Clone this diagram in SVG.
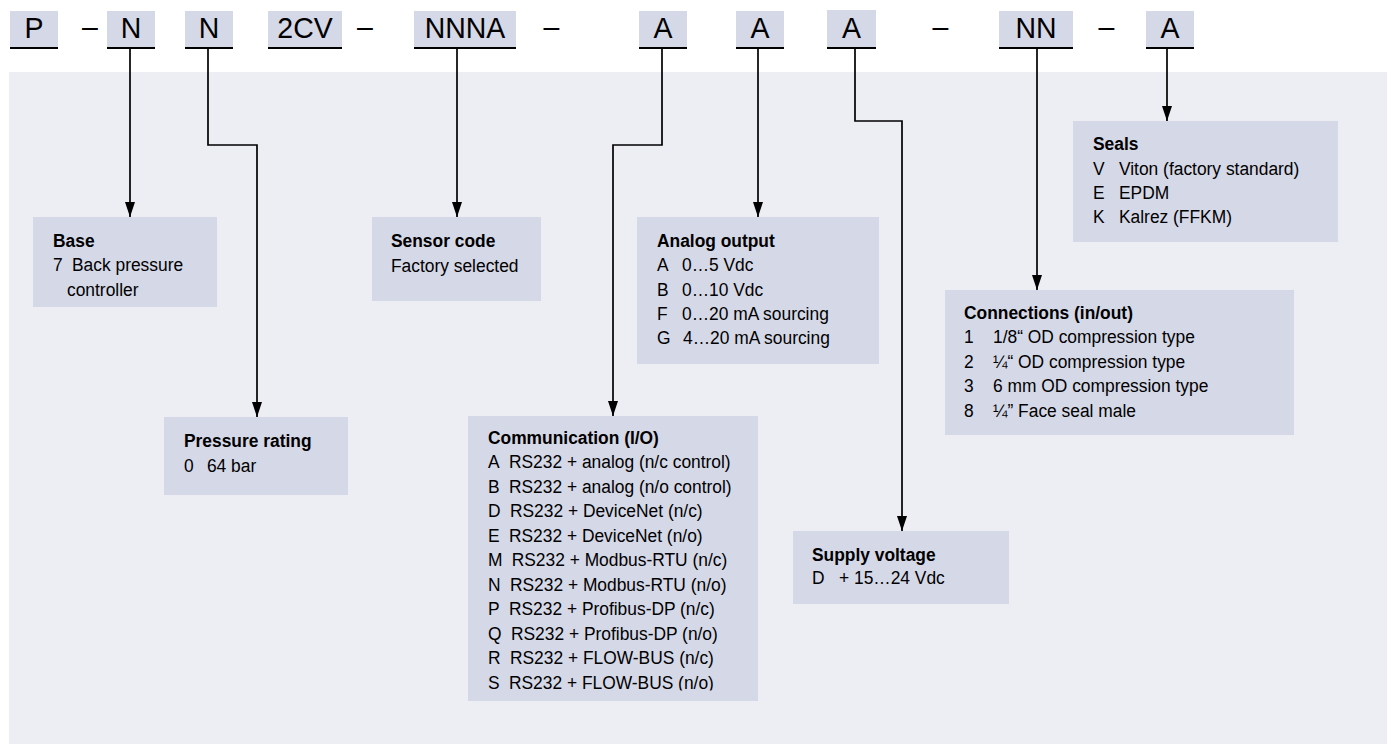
<svg xmlns="http://www.w3.org/2000/svg" width="1391" height="744" viewBox="0 0 1391 744">
<style>
text{font-family:"Liberation Sans",Arial,Helvetica,sans-serif;font-size:19px;fill:#000;}
.b{font-weight:bold;}
.code{font-size:30px;text-anchor:middle;}
.cb{fill:#d5d8e7;}
.nb{fill:#d5d8e7;}
.ul{stroke:#000;stroke-width:2;}
.conn{fill:none;stroke:#000;stroke-width:1.7;marker-end:url(#arr);}
</style>
<defs>
<marker id="arr" viewBox="0 0 15 10" refX="15" refY="5" markerWidth="15" markerHeight="10" markerUnits="userSpaceOnUse" orient="auto">
<path d="M0,0 L15,5 L0,10 z" fill="#000"/>
</marker>
<clipPath id="commclip"><rect x="468" y="416" width="290" height="274.5"/></clipPath>
</defs>
<rect id="panel" x="9" y="72" width="1378" height="672" fill="#edeef4"/>

<g id="code">
<g id="code-P"><rect class="cb" x="10" y="11" width="48" height="36"/><line class="ul" x1="10" y1="48" x2="58" y2="48"/><text class="code" transform="translate(34,38) scale(0.95,1)">P</text></g>
<text class="code" transform="translate(90,36.5) scale(0.95,1)">–</text>
<g id="code-N1"><rect class="cb" x="107" y="11" width="48" height="36"/><line class="ul" x1="107" y1="48" x2="155" y2="48"/><text class="code" transform="translate(131,38) scale(0.95,1)">N</text></g>
<g id="code-N2"><rect class="cb" x="185" y="11" width="48" height="36"/><line class="ul" x1="185" y1="48" x2="233" y2="48"/><text class="code" transform="translate(209,38) scale(0.95,1)">N</text></g>
<g id="code-2CV"><rect class="cb" x="268" y="11" width="74" height="36"/><line class="ul" x1="268" y1="48" x2="342" y2="48"/><text class="code" transform="translate(305,38) scale(0.95,1)">2CV</text></g>
<text class="code" transform="translate(365,36.5) scale(0.95,1)">–</text>
<g id="code-NNNA"><rect class="cb" x="414" y="11" width="102" height="36"/><line class="ul" x1="414" y1="48" x2="516" y2="48"/><text class="code" transform="translate(465,38) scale(0.95,1)">NNNA</text></g>
<text class="code" transform="translate(551.5,36.5) scale(0.95,1)">–</text>
<g id="code-A1"><rect class="cb" x="639" y="11" width="48" height="36"/><line class="ul" x1="639" y1="48" x2="687" y2="48"/><text class="code" transform="translate(663,38) scale(0.95,1)">A</text></g>
<g id="code-A2"><rect class="cb" x="736" y="11" width="48" height="36"/><line class="ul" x1="736" y1="48" x2="784" y2="48"/><text class="code" transform="translate(760,38) scale(0.95,1)">A</text></g>
<g id="code-A3"><rect class="cb" x="827" y="10" width="49" height="37"/><line class="ul" x1="827" y1="48" x2="876" y2="48"/><text class="code" transform="translate(851.5,38) scale(0.95,1)">A</text></g>
<text class="code" transform="translate(940.5,36.5) scale(0.95,1)">–</text>
<g id="code-NN"><rect class="cb" x="999" y="11" width="74" height="36"/><line class="ul" x1="999" y1="48" x2="1073" y2="48"/><text class="code" transform="translate(1036,38) scale(0.95,1)">NN</text></g>
<text class="code" transform="translate(1106.5,36.5) scale(0.95,1)">–</text>
<g id="code-A4"><rect class="cb" x="1146" y="11" width="48" height="36"/><line class="ul" x1="1146" y1="48" x2="1194" y2="48"/><text class="code" transform="translate(1170,38) scale(0.95,1)">A</text></g>
</g>

<g id="connectors">
<path class="conn" d="M130,49 V217"/>
<path class="conn" d="M208,49 V145 H257 V417"/>
<path class="conn" d="M457,49 V217"/>
<path class="conn" d="M662,49 V145 H613 V416"/>
<path class="conn" d="M758,49 V217"/>
<path class="conn" d="M855,49 V121 H902 V531"/>
<path class="conn" d="M1037,49 V290"/>
<path class="conn" d="M1167,49 V121"/>
</g>

<g id="base">
<rect class="nb" x="33" y="217" width="184" height="90"/>
<g transform="translate(53,0) scale(0.915,1)">
<text class="b" y="247">Base</text>
<text y="271">7<tspan x="20.8">Back pressure</tspan></text>
<text x="15.3" y="296">controller</text>
</g>
</g>

<g id="sensor">
<rect class="nb" x="372" y="217" width="169" height="84"/>
<g transform="translate(391,0) scale(0.915,1)">
<text class="b" y="247">Sensor code</text>
<text y="272">Factory selected</text>
</g>
</g>

<g id="pressure">
<rect class="nb" x="164" y="417" width="184" height="78"/>
<g transform="translate(184,0) scale(0.915,1)">
<text class="b" y="447">Pressure rating</text>
<text y="472">0<tspan x="25.1">64 bar</tspan></text>
</g>
</g>

<g id="communication">
<rect class="nb" x="468" y="416" width="290" height="285"/>
<g clip-path="url(#commclip)">
<g transform="translate(488,0) scale(0.915,1)">
<text class="b" y="444">Communication (I/O)</text>
<text y="468.5">A<tspan x="22.9">RS232 + analog (n/c control)</tspan></text>
<text y="493">B<tspan x="22.9">RS232 + analog (n/o control)</tspan></text>
<text y="517.5">D<tspan x="24">RS232 + DeviceNet (n/c)</tspan></text>
<text y="542">E<tspan x="22.9">RS232 + DeviceNet (n/o)</tspan></text>
<text y="566.5">M<tspan x="25.9">RS232 + Modbus-RTU (n/c)</tspan></text>
<text y="591">N<tspan x="24">RS232 + Modbus-RTU (n/o)</tspan></text>
<text y="615.5">P<tspan x="22.9">RS232 + Profibus-DP (n/c)</tspan></text>
<text y="640">Q<tspan x="25.1">RS232 + Profibus-DP (n/o)</tspan></text>
<text y="664.5">R<tspan x="24">RS232 + FLOW-BUS (n/c)</tspan></text>
<text y="689">S<tspan x="22.9">RS232 + FLOW-BUS (n/o)</tspan></text>
</g>
</g>
</g>

<g id="analog">
<rect class="nb" x="637" y="217" width="242" height="147"/>
<g transform="translate(657,0) scale(0.915,1)">
<text class="b" y="247">Analog output</text>
<text y="271.3">A<tspan x="27.3">0…5 Vdc</tspan></text>
<text y="295.6">B<tspan x="27.3">0…10 Vdc</tspan></text>
<text y="319.9">F<tspan x="27.3">0…20 mA sourcing</tspan></text>
<text y="344.2">G<tspan x="28.4">4…20 mA sourcing</tspan></text>
</g>
</g>

<g id="supply">
<rect class="nb" x="793" y="531" width="216" height="73"/>
<g transform="translate(812,0) scale(0.915,1)">
<text class="b" y="561">Supply voltage</text>
<text y="584">D<tspan x="29.5">+ 15…24 Vdc</tspan></text>
</g>
</g>

<g id="connections">
<rect class="nb" x="945" y="290" width="349" height="145"/>
<g transform="translate(964,0) scale(0.915,1)">
<text class="b" y="319">Connections (in/out)</text>
<text y="343.3">1<tspan x="31.7">1/8“ OD compression type</tspan></text>
<text y="367.8">2<tspan x="31.7">¼“ OD compression type</tspan></text>
<text y="392.3">3<tspan x="31.7">6 mm OD compression type</tspan></text>
<text y="416.8">8<tspan x="31.7">¼” Face seal male</tspan></text>
</g>
</g>

<g id="seals">
<rect class="nb" x="1073" y="121" width="265" height="121"/>
<g transform="translate(1093,0) scale(0.915,1)">
<text class="b" y="150">Seals</text>
<text y="175">V<tspan x="28.4">Viton (factory standard)</tspan></text>
<text y="199">E<tspan x="28.4">EPDM</tspan></text>
<text y="223.5">K<tspan x="28.4">Kalrez (FFKM)</tspan></text>
</g>
</g>
</svg>
